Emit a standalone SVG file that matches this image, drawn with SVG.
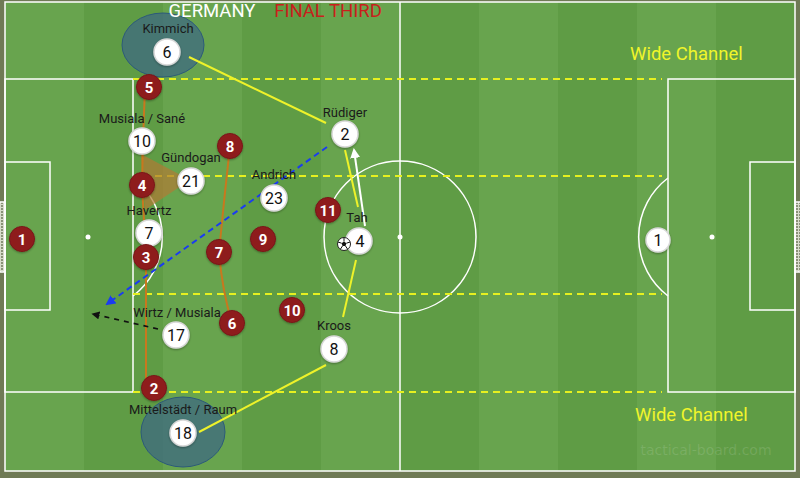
<svg xmlns="http://www.w3.org/2000/svg" width="800" height="478" viewBox="0 0 800 478">
<style>
.fl{fill:none;stroke:#fff;stroke-width:1.5}
.zone{fill:none;stroke:#e6f020;stroke-width:2;stroke-dasharray:7 5}
.lbl{font-family:Roboto,"Liberation Sans",sans-serif;font-size:13px;fill:#1a1a1a;text-anchor:middle}
.wn{font-family:Roboto,"Liberation Sans",sans-serif;font-size:16px;fill:#111;text-anchor:middle}
.rn{font-family:Roboto,"Liberation Sans",sans-serif;font-size:15px;font-weight:bold;fill:#fff;text-anchor:middle}
.wc{fill:#fff;stroke:#d8d8d8;stroke-width:1.5;filter:url(#sh)}
.rc{fill:#8e1c1e;stroke:#7a1618;stroke-width:1;filter:url(#sh)}
.yl{stroke:#eef22a;stroke-width:2;fill:none}
.ol{stroke:#c8781e;stroke-width:2;fill:none}
.wch{font-family:Roboto,"Liberation Sans",sans-serif;font-size:18.5px;fill:#f0f52a}
.ttl{font-family:Roboto,"Liberation Sans",sans-serif;font-size:18.5px;text-anchor:middle}
</style>
<defs>
<filter id="sh" x="-30%" y="-30%" width="160%" height="160%"><feDropShadow dx="0" dy="1" stdDeviation="1.2" flood-color="#000" flood-opacity="0.35"/></filter>
<pattern id="net" width="3" height="3" patternUnits="userSpaceOnUse"><rect width="3" height="3" fill="#8a9278"/><path d="M0 0.5H3M0.5 0V3" stroke="#d8dccc" stroke-width="1"/></pattern>
<marker id="ab" viewBox="0 0 10 10" refX="8" refY="5" markerWidth="5" markerHeight="5" orient="auto"><path d="M0 0L10 5L0 10z" fill="#1a3cf0"/></marker>
<marker id="ak" viewBox="0 0 10 10" refX="8" refY="5" markerWidth="5" markerHeight="5" orient="auto"><path d="M0 0L10 5L0 10z" fill="#111"/></marker>
<marker id="aw" viewBox="0 0 10 10" refX="8" refY="5" markerWidth="5" markerHeight="5" orient="auto"><path d="M0 0L10 5L0 10z" fill="#fff"/></marker>
</defs>
<g id="pitch">
<rect width="800" height="478" fill="#6f7a55"/>
<rect x="5" y="2" width="790" height="469" fill="#5f9c45"/>
<rect x="5" y="2" width="79" height="469" fill="#68a44e"/>
<rect x="163" y="2" width="79" height="469" fill="#68a44e"/>
<rect x="321" y="2" width="79" height="469" fill="#68a44e"/>
<rect x="479" y="2" width="79" height="469" fill="#68a44e"/>
<rect x="637" y="2" width="79" height="469" fill="#68a44e"/>
<rect x="0" y="202" width="5" height="70" fill="url(#net)"/>
<rect x="795" y="202" width="5" height="70" fill="url(#net)"/>
<path class="fl" d="M0 202H5M0 272H5M795 202H800M795 272H800"/>
<rect class="fl" x="5" y="2" width="790" height="469"/>
<line class="fl" x1="400" y1="2" x2="400" y2="471"/>
<circle class="fl" cx="400" cy="237" r="76"/>
<circle cx="400" cy="237" r="2.5" fill="#fff"/>
<rect class="fl" x="5" y="79" width="128" height="313"/>
<rect class="fl" x="5" y="162" width="45" height="148"/>
<rect class="fl" x="668" y="79" width="127" height="313"/>
<rect class="fl" x="750" y="162" width="45" height="148"/>
<circle cx="88" cy="237" r="2.5" fill="#fff"/>
<circle cx="712" cy="237" r="2.5" fill="#fff"/>
<path class="fl" d="M133 178A74 74 0 0 1 133 296"/>
<path class="fl" d="M668 178A74 74 0 0 0 668 296"/>
</g>
<g id="zones">
<line class="zone" x1="133" y1="79" x2="662" y2="79"/>
<line class="zone" x1="155" y1="176" x2="662" y2="176"/>
<line class="zone" x1="133" y1="294" x2="662" y2="294"/>
<line class="zone" x1="133" y1="392" x2="662" y2="392"/>
<ellipse cx="163" cy="45" rx="41" ry="32" fill="#3e6a82" fill-opacity="0.75" stroke="#2c5a7a" stroke-width="1"/>
<ellipse cx="183" cy="432" rx="42" ry="35" fill="#3e6a82" fill-opacity="0.75" stroke="#2c5a7a" stroke-width="1"/>
<polygon points="141,154 190,180 145,210" fill="#b07a35" fill-opacity="0.7"/>
</g>
<g id="titles">
<text class="ttl" x="212" y="17" fill="#fff">GERMANY</text>
<text class="ttl" x="328" y="17" fill="#c8201c">FINAL THIRD</text>
<text class="wch" x="630" y="60">Wide Channel</text>
<text class="wch" x="635" y="421">Wide Channel</text>
<text x="706" y="455" font-family="'DejaVu Sans',sans-serif" font-size="14" fill="#fff" fill-opacity="0.13" text-anchor="middle">tactical-board.com</text>
</g>
<g id="connectors">
<path class="ol" d="M145 87L143 140L142 185L146 257L146 388"/>
<path class="ol" d="M230 146Q224 200 219 252Q222 290 232 323"/>
<line class="yl" x1="189" y1="57" x2="326" y2="123"/>
<line class="yl" x1="345" y1="150" x2="358" y2="207"/>
<line class="yl" x1="356" y1="260" x2="343" y2="317"/>
<line class="yl" x1="199" y1="432" x2="326" y2="365"/>
<line x1="365" y1="226" x2="354" y2="150" stroke="#fff" stroke-width="2" marker-end="url(#aw)"/>
<line x1="327" y1="147" x2="107" y2="304" stroke="#1a3cf0" stroke-width="2" stroke-dasharray="6 4" marker-end="url(#ab)"/>
<line x1="158" y1="329" x2="93" y2="314" stroke="#111" stroke-width="1.6" stroke-dasharray="5 5" marker-end="url(#ak)"/>
</g>
<g id="p-kimmich"><text class="lbl" x="168" y="33">Kimmich</text><circle class="wc" cx="167" cy="52" r="13"/><text class="wn" x="167" y="58">6</text></g>
<g id="p-musiala-sane"><text class="lbl" x="142" y="123">Musiala / Sané</text><circle class="wc" cx="142" cy="141" r="13"/><text class="wn" x="142" y="147">10</text></g>
<g id="p-rudiger"><text class="lbl" x="345" y="117">Rüdiger</text><circle class="wc" cx="345" cy="134" r="13"/><text class="wn" x="345" y="140">2</text></g>
<g id="p-gundogan"><text class="lbl" x="191" y="162">Gündogan</text><circle class="wc" cx="191" cy="181" r="13"/><text class="wn" x="191" y="187">21</text></g>
<g id="p-andrich"><text class="lbl" x="274" y="179">Andrich</text><circle class="wc" cx="274" cy="198" r="13"/><text class="wn" x="274" y="204">23</text></g>
<g id="p-havertz"><text class="lbl" x="149" y="215">Havertz</text><circle class="wc" cx="149" cy="233" r="13"/><text class="wn" x="149" y="239">7</text></g>
<g id="p-tah"><text class="lbl" x="357" y="222">Tah</text><circle class="wc" cx="359" cy="241" r="13"/><text class="wn" x="360" y="247">4</text></g>
<g id="ball"><circle cx="344" cy="244" r="6.5" fill="#fff" stroke="#222" stroke-width="1"/><polygon points="344,241.5 346.4,243.2 345.5,246 342.5,246 341.6,243.2" fill="#111"/><path d="M344 241.5V237.8M346.4 243.2L350 242M345.5 246L347.5 249M342.5 246L340.5 249M341.6 243.2L338 242" stroke="#111" stroke-width="1"/></g>
<g id="p-wirtz-musiala"><text class="lbl" x="177" y="317">Wirtz / Musiala</text><circle class="wc" cx="176" cy="335" r="13"/><text class="wn" x="176" y="341">17</text></g>
<g id="p-kroos"><text class="lbl" x="334" y="330">Kroos</text><circle class="wc" cx="334" cy="349" r="13"/><text class="wn" x="334" y="355">8</text></g>
<g id="p-mittelstadt-raum"><text class="lbl" x="183" y="414">Mittelstädt / Raum</text><circle class="wc" cx="183" cy="433" r="13"/><text class="wn" x="183" y="439">18</text></g>
<g id="p-gk-right"><circle class="wc" cx="658" cy="240" r="12"/><text class="wn" x="658" y="246" font-size="15">1</text></g>
<g id="o-1"><circle class="rc" cx="22" cy="239" r="12.5"/><text class="rn" x="22" y="244.5">1</text></g>
<g id="o-5"><circle class="rc" cx="149" cy="87" r="12.5"/><text class="rn" x="149" y="92.5">5</text></g>
<g id="o-8"><circle class="rc" cx="230" cy="146" r="12.5"/><text class="rn" x="230" y="151.5">8</text></g>
<g id="o-4"><circle class="rc" cx="142" cy="185" r="12.5"/><text class="rn" x="142" y="190.5">4</text></g>
<g id="o-3"><circle class="rc" cx="146" cy="257" r="12.5"/><text class="rn" x="146" y="262.5">3</text></g>
<g id="o-7"><circle class="rc" cx="219" cy="252" r="12.5"/><text class="rn" x="219" y="257.5">7</text></g>
<g id="o-9"><circle class="rc" cx="263" cy="239" r="12.5"/><text class="rn" x="263" y="244.5">9</text></g>
<g id="o-11"><circle class="rc" cx="328" cy="210" r="12.5"/><text class="rn" x="328" y="215.5">11</text></g>
<g id="o-10"><circle class="rc" cx="292" cy="310" r="12.5"/><text class="rn" x="292" y="315.5">10</text></g>
<g id="o-6"><circle class="rc" cx="232" cy="323" r="12.5"/><text class="rn" x="232" y="328.5">6</text></g>
<g id="o-2"><circle class="rc" cx="154" cy="388" r="12.5"/><text class="rn" x="154" y="393.5">2</text></g>
</svg>
